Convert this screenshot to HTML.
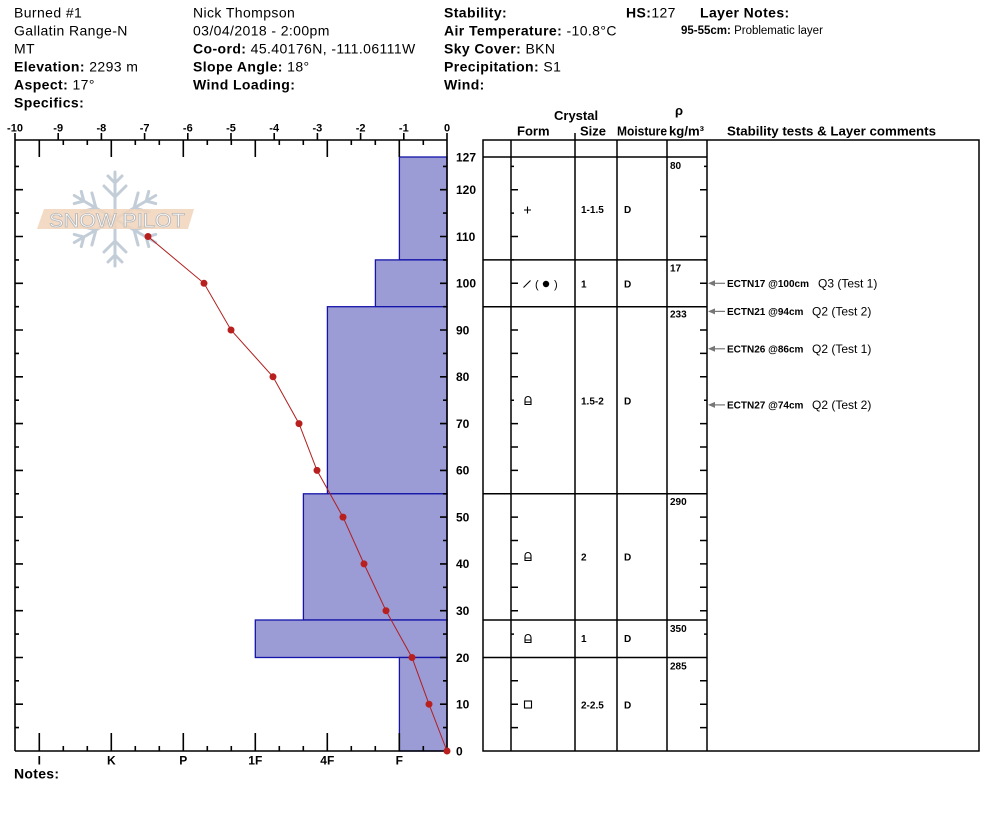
<!DOCTYPE html>
<html><head><meta charset="utf-8"><style>
html,body{margin:0;padding:0;background:#fff;}
svg{display:block;font-family:"Liberation Sans",Arial,sans-serif;}
.h{font-size:14px;letter-spacing:0.4px;fill:#000;}
.b{font-weight:bold;}
.ax{font-size:11px;font-weight:bold;}
.hl{font-size:12px;font-weight:bold;}
.th{font-size:13px;font-weight:bold;}
.td{font-size:10px;font-weight:bold;}
.st{font-size:10px;font-weight:bold;}
.sq{font-size:12px;}
</style></head><body>
<svg width="994" height="840" viewBox="0 0 994 840" xmlns="http://www.w3.org/2000/svg">
<rect width="994" height="840" fill="#fff"/>

<!-- Header text -->
<g class="h">
<text x="14" y="17.3">Burned #1</text>
<text x="14" y="35.3">Gallatin Range-N</text>
<text x="14" y="53.3">MT</text>
<text x="14" y="71.3"><tspan class="b">Elevation:</tspan> 2293 m</text>
<text x="14" y="89.3"><tspan class="b">Aspect:</tspan> 17°</text>
<text x="14" y="107.3"><tspan class="b">Specifics:</tspan></text>

<text x="193" y="17.3">Nick Thompson</text>
<text x="193" y="35.3">03/04/2018 - 2:00pm</text>
<text x="193" y="53.3"><tspan class="b">Co-ord:</tspan> 45.40176N, -111.06111W</text>
<text x="193" y="71.3"><tspan class="b">Slope Angle:</tspan> 18°</text>
<text x="193" y="89.3"><tspan class="b">Wind Loading:</tspan></text>

<text x="444" y="17.3"><tspan class="b">Stability:</tspan></text>
<text x="444" y="35.3"><tspan class="b">Air Temperature:</tspan> -10.8°C</text>
<text x="444" y="53.3"><tspan class="b">Sky Cover:</tspan> BKN</text>
<text x="444" y="71.3"><tspan class="b">Precipitation:</tspan> S1</text>
<text x="444" y="89.3"><tspan class="b">Wind:</tspan></text>

<text x="626" y="17.3"><tspan class="b">HS:</tspan>127</text>
<text x="700" y="17.3" class="b">Layer Notes:</text>
</g>
<text x="681" y="34" style="font-size:11.5px"><tspan font-weight="bold">95-55cm:</tspan> Problematic layer</text>

<!-- Snow pilot logo -->
<g stroke="#c2cdd8" stroke-width="3" stroke-linecap="round" stroke-linejoin="round" fill="none">
 <g id="arm">
  <line x1="115" y1="219" x2="115" y2="172"/>
  <polyline points="108,176 115,183 122,176"/>
  <polyline points="104,186 115,197 126,186"/>
 </g>
 <use href="#arm" transform="rotate(60 115 219)"/>
 <use href="#arm" transform="rotate(120 115 219)"/>
 <use href="#arm" transform="rotate(180 115 219)"/>
 <use href="#arm" transform="rotate(240 115 219)"/>
 <use href="#arm" transform="rotate(300 115 219)"/>
</g>
<polygon points="44,209 194,209 188,229 37,229" fill="#f1d3bb" fill-opacity="0.85"/>
<text x="49" y="227" font-size="19" textLength="136" lengthAdjust="spacingAndGlyphs" fill="#fff" stroke="#b8b8b8" stroke-width="0.8">SNOW PILOT</text>

<!-- Hardness bars -->
<g fill="#9b9bd6" stroke="#1414a8" stroke-width="1.3">
<rect x="399.4" y="157" width="47.6" height="102.9"/>
<rect x="375.4" y="259.9" width="71.6" height="46.8"/>
<rect x="327.4" y="306.7" width="119.6" height="187.1"/>
<rect x="303.4" y="493.8" width="143.6" height="126.2"/>
<rect x="255.3" y="620" width="191.7" height="37.5"/>
<rect x="399.4" y="657.5" width="47.6" height="93.5"/>
</g>

<!-- Axes frame -->
<g stroke="#000" stroke-width="1.6" fill="none">
<line x1="15" y1="140" x2="447" y2="140"/>
<line x1="15" y1="751" x2="447" y2="751"/>
<line x1="15" y1="140" x2="15" y2="751"/>
<line x1="447" y1="140" x2="447" y2="751"/>
<path d="M39.3,140v17M111.3,140v17M183.3,140v17M255.3,140v17M327.3,140v17M399.3,140v17"/>
<path d="M63.3,140v5M87.3,140v5M135.3,140v5M159.3,140v5M207.3,140v5M231.3,140v5M279.3,140v5M303.3,140v5M351.3,140v5M375.3,140v5M423.3,140v5"/>
<path d="M15,133v7M58.2,133v7M101.4,133v7M144.6,133v7M187.8,133v7M231,133v7M274.2,133v7M317.4,133v7M360.6,133v7M403.8,133v7M447,133v7"/>
<path d="M39.3,751v-18M111.3,751v-18M183.3,751v-18M255.3,751v-18M327.3,751v-18M399.3,751v-18"/>
<path d="M63.3,751v-5M87.3,751v-5M135.3,751v-5M159.3,751v-5M207.3,751v-5M231.3,751v-5M279.3,751v-5M303.3,751v-5M351.3,751v-5M375.3,751v-5M423.3,751v-5"/>
<path d="M15,704.2h8M15,657.5h8M15,610.7h8M15,563.9h8M15,517.1h8M15,470.4h8M15,423.6h8M15,376.8h8M15,330h8M15,283.3h8M15,236.5h8M15,189.7h8"/>
<path d="M15,727.6h4M15,680.8h4M15,634.1h4M15,587.3h4M15,540.5h4M15,493.8h4M15,447h4M15,400.2h4M15,353.4h4M15,306.7h4M15,259.9h4M15,213.1h4M15,166.4h4"/>
<path d="M447,704.2h-7M447,657.5h-7M447,610.7h-7M447,563.9h-7M447,517.1h-7M447,470.4h-7M447,423.6h-7M447,376.8h-7M447,330h-7M447,283.3h-7M447,236.5h-7M447,189.7h-7"/>
<path d="M447,727.6h-4M447,680.8h-4M447,634.1h-4M447,587.3h-4M447,540.5h-4M447,493.8h-4M447,447h-4M447,400.2h-4M447,353.4h-4M447,306.7h-4M447,259.9h-4M447,213.1h-4M447,166.4h-4"/>
</g>

<!-- top temperature labels -->
<g class="ax" text-anchor="middle">
<text x="15" y="131.5">-10</text>
<text x="58.2" y="131.5">-9</text>
<text x="101.4" y="131.5">-8</text>
<text x="144.6" y="131.5">-7</text>
<text x="187.8" y="131.5">-6</text>
<text x="231" y="131.5">-5</text>
<text x="274.2" y="131.5">-4</text>
<text x="317.4" y="131.5">-3</text>
<text x="360.6" y="131.5">-2</text>
<text x="403.8" y="131.5">-1</text>
<text x="447" y="131.5">0</text>
</g>

<!-- right height labels -->
<g class="hl">
<text x="456" y="161.3">127</text>
<text x="456" y="194">120</text>
<text x="456" y="240.8">110</text>
<text x="456" y="287.6">100</text>
<text x="456" y="334.3">90</text>
<text x="456" y="381.1">80</text>
<text x="456" y="427.9">70</text>
<text x="456" y="474.7">60</text>
<text x="456" y="521.4">50</text>
<text x="456" y="568.2">40</text>
<text x="456" y="615">30</text>
<text x="456" y="661.8">20</text>
<text x="456" y="708.5">10</text>
<text x="456" y="755.3">0</text>
</g>

<!-- bottom hardness labels -->
<g class="hl" text-anchor="middle">
<text x="39.3" y="764.5">I</text>
<text x="111.3" y="764.5">K</text>
<text x="183.3" y="764.5">P</text>
<text x="255.3" y="764.5">1F</text>
<text x="327.3" y="764.5">4F</text>
<text x="399.3" y="764.5">F</text>
</g>
<text x="14" y="778.5" style="font-size:14px;font-weight:bold;letter-spacing:0.3px">Notes:</text>

<!-- Temperature profile -->
<polyline points="447,751 429,704.2 412,657.5 386,610.7 364,563.9 343,517.1 317,470.4 299,423.6 273,376.8 231,330 204,283.3 148,236.5" fill="none" stroke="#b01e1e" stroke-width="1"/>
<g fill="#b8201f">
<circle cx="447" cy="751" r="3.5"/>
<circle cx="429" cy="704.2" r="3.5"/>
<circle cx="412" cy="657.5" r="3.5"/>
<circle cx="386" cy="610.7" r="3.5"/>
<circle cx="364" cy="563.9" r="3.5"/>
<circle cx="343" cy="517.1" r="3.5"/>
<circle cx="317" cy="470.4" r="3.5"/>
<circle cx="299" cy="423.6" r="3.5"/>
<circle cx="273" cy="376.8" r="3.5"/>
<circle cx="231" cy="330" r="3.5"/>
<circle cx="204" cy="283.3" r="3.5"/>
<circle cx="148" cy="236.5" r="3.5"/>
</g>

<!-- Table headers -->
<g class="th">
<text x="554" y="120">Crystal</text>
<text x="517" y="135.7">Form</text>
<text x="580" y="135.7">Size</text>
<text x="617" y="135.7" textLength="50" lengthAdjust="spacingAndGlyphs">Moisture</text>
<text x="675" y="115">ρ</text>
<text x="669" y="135.7" textLength="35" lengthAdjust="spacingAndGlyphs">kg/m³</text>
<text x="727" y="135.7" textLength="209" lengthAdjust="spacingAndGlyphs">Stability tests &amp; Layer comments</text>
</g>

<!-- Table grid -->
<g stroke="#000" stroke-width="1.5" fill="none">
<rect x="483" y="140" width="496" height="611"/>
<path d="M511,140V751M575,140V751M617,140V751M667,140V751M707,140V751M575,133V140"/>
<path d="M483,157H707M483,259.9H707M483,306.7H707M483,493.8H707M483,620H707M483,657.5H707"/>
<path d="M511,704.2h7M511,680.8h7M511,727.6h7M511,610.7h7M511,587.3h7M511,563.9h7M511,540.5h7M511,517.1h7M511,470.4h7M511,447h7M511,423.6h7M511,376.8h7M511,353.4h7M511,330h7M511,283.3h7M511,236.5h7M511,189.7h7"/>
<path d="M511,634.1h3M511,493.8h3M511,400.2h3M511,306.7h3M511,259.9h3M511,213.1h3M511,166.4h3"/>
<path d="M707,704.2h-7M707,680.8h-7M707,727.6h-7M707,610.7h-7M707,587.3h-7M707,563.9h-7M707,540.5h-7M707,517.1h-7M707,470.4h-7M707,447h-7M707,423.6h-7M707,376.8h-7M707,353.4h-7M707,330h-7M707,283.3h-7M707,236.5h-7M707,189.7h-7"/>
<path d="M707,634.1h-3M707,493.8h-3M707,400.2h-3M707,306.7h-3M707,259.9h-3M707,166.4h-3"/>
</g>

<!-- Layer data -->
<g stroke="#000" stroke-width="1.1" fill="none">
<path d="M524,210h7M527.5,206.5v7"/>
<path d="M523.5,287.5L530.5,280.5"/>
<path d="M525,404.5V399.5A3,3 0 0 1 531,399.5V404.5ZM525,402H531"/>
<path d="M525,560.5V555.5A3,3 0 0 1 531,555.5V560.5ZM525,558H531"/>
<path d="M525,642.5V637.5A3,3 0 0 1 531,637.5V642.5ZM525,640H531"/>
<rect x="524.5" y="701" width="7" height="7"/>
</g>
<text x="535" y="288" font-size="11">(</text>
<circle cx="546" cy="284" r="3.2" fill="#000"/>
<text x="554" y="288" font-size="11">)</text>

<g class="td">
<text x="581" y="213">1-1.5</text>
<text x="624" y="213">D</text>
<text x="670" y="169">80</text>

<text x="581" y="287.5">1</text>
<text x="624" y="287.5">D</text>
<text x="670" y="271.7">17</text>

<text x="581" y="404.5">1.5-2</text>
<text x="624" y="404.5">D</text>
<text x="670" y="317.5">233</text>

<text x="581" y="560.5">2</text>
<text x="624" y="560.5">D</text>
<text x="670" y="505">290</text>

<text x="581" y="642">1</text>
<text x="624" y="642">D</text>
<text x="670" y="632">350</text>

<text x="581" y="708.5">2-2.5</text>
<text x="624" y="708.5">D</text>
<text x="670" y="669.5">285</text>
</g>

<!-- Stability tests -->
<g stroke="#777" stroke-width="1.2" fill="#777">
<path d="M714,283.3H725" fill="none"/><path d="M708,283.3l7,-3v6z" stroke="none"/>
<path d="M714,311.4H725" fill="none"/><path d="M708,311.4l7,-3v6z" stroke="none"/>
<path d="M714,348.8H725" fill="none"/><path d="M708,348.8l7,-3v6z" stroke="none"/>
<path d="M714,404.9H725" fill="none"/><path d="M708,404.9l7,-3v6z" stroke="none"/>
</g>
<g>
<text x="727" y="287" class="st">ECTN17 @100cm</text><text x="818" y="287.5" class="sq">Q3 (Test 1)</text>
<text x="727" y="315.1" class="st">ECTN21 @94cm</text><text x="812" y="315.6" class="sq">Q2 (Test 2)</text>
<text x="727" y="352.5" class="st">ECTN26 @86cm</text><text x="812" y="353" class="sq">Q2 (Test 1)</text>
<text x="727" y="408.6" class="st">ECTN27 @74cm</text><text x="812" y="409.1" class="sq">Q2 (Test 2)</text>
</g>
</svg>
</body></html>
